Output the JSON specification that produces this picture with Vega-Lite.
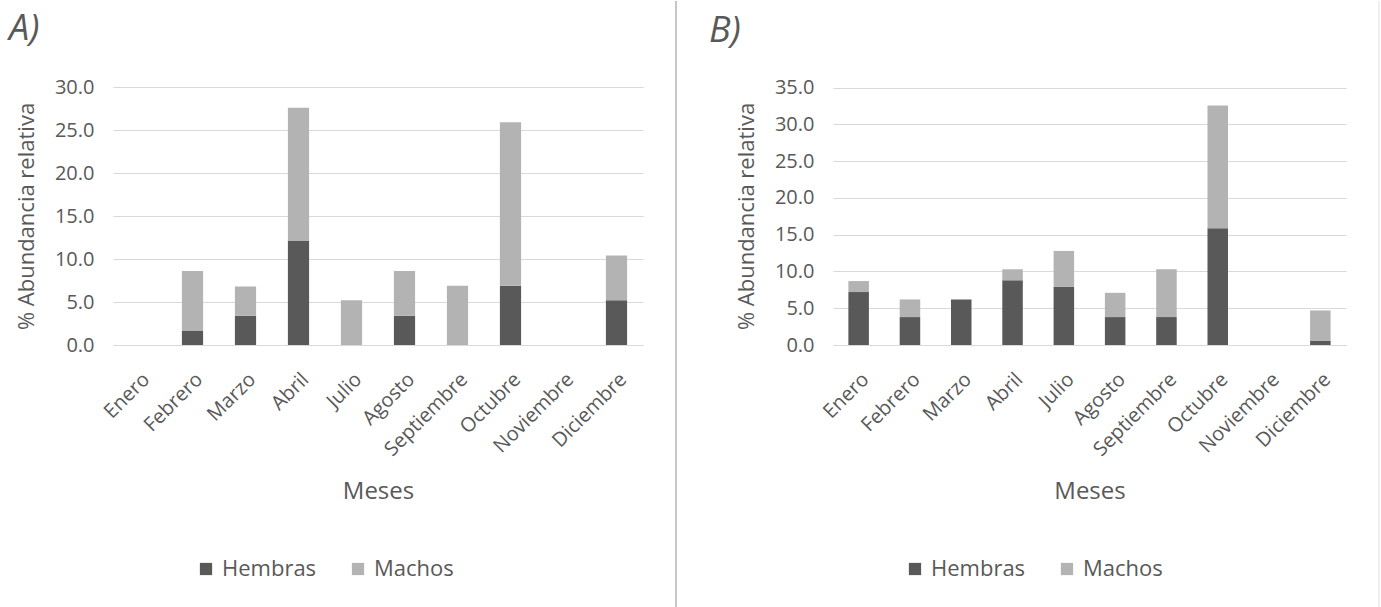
{
  "$schema": "https://vega.github.io/schema/vega-lite/v6.json",
  "padding": {"left": 9, "top": 0, "right": 0, "bottom": 0},
  "spacing": 32,
  "background": "white",
  "datasets": {
    "A": [
      {"mes": "Febrero", "sexo": "Hembras", "valor": 1.7},
      {"mes": "Febrero", "sexo": "Machos", "valor": 6.9},
      {"mes": "Marzo", "sexo": "Hembras", "valor": 3.4},
      {"mes": "Marzo", "sexo": "Machos", "valor": 3.4},
      {"mes": "Abril", "sexo": "Hembras", "valor": 12.1},
      {"mes": "Abril", "sexo": "Machos", "valor": 15.5},
      {"mes": "Julio", "sexo": "Machos", "valor": 5.2},
      {"mes": "Agosto", "sexo": "Hembras", "valor": 3.4},
      {"mes": "Agosto", "sexo": "Machos", "valor": 5.2},
      {"mes": "Septiembre", "sexo": "Machos", "valor": 6.9},
      {"mes": "Octubre", "sexo": "Hembras", "valor": 6.9},
      {"mes": "Octubre", "sexo": "Machos", "valor": 19.0},
      {"mes": "Diciembre", "sexo": "Hembras", "valor": 5.2},
      {"mes": "Diciembre", "sexo": "Machos", "valor": 5.2}
    ],
    "B": [
      {"mes": "Enero", "sexo": "Hembras", "valor": 7.2},
      {"mes": "Enero", "sexo": "Machos", "valor": 1.5},
      {"mes": "Febrero", "sexo": "Hembras", "valor": 3.8},
      {"mes": "Febrero", "sexo": "Machos", "valor": 2.4},
      {"mes": "Marzo", "sexo": "Hembras", "valor": 6.2},
      {"mes": "Abril", "sexo": "Hembras", "valor": 8.8},
      {"mes": "Abril", "sexo": "Machos", "valor": 1.5},
      {"mes": "Julio", "sexo": "Hembras", "valor": 7.9},
      {"mes": "Julio", "sexo": "Machos", "valor": 4.9},
      {"mes": "Agosto", "sexo": "Hembras", "valor": 3.8},
      {"mes": "Agosto", "sexo": "Machos", "valor": 3.3},
      {"mes": "Septiembre", "sexo": "Hembras", "valor": 3.8},
      {"mes": "Septiembre", "sexo": "Machos", "valor": 6.5},
      {"mes": "Octubre", "sexo": "Hembras", "valor": 15.9},
      {"mes": "Octubre", "sexo": "Machos", "valor": 16.7},
      {"mes": "Diciembre", "sexo": "Hembras", "valor": 0.6},
      {"mes": "Diciembre", "sexo": "Machos", "valor": 4.1}
    ],
    "sep": [{"s": 0}]
  },
  "config": {
    "view": {"stroke": null},
    "font": "Open Sans",
    "axis": {
      "labelColor": "#595959",
      "titleColor": "#595959",
      "labelFont": "Open Sans",
      "titleFont": "Open Sans",
      "titleFontWeight": "normal"
    },
    "legend": {
      "labelColor": "#595959",
      "labelFont": "Open Sans",
      "labelFontSize": 22,
      "symbolType": "square",
      "symbolSize": 150,
      "symbolStrokeWidth": 0,
      "columnPadding": 30,
      "labelOffset": 5,
      "padding": 0
    },
    "title": {
      "font": "Open Sans",
      "fontSize": 36,
      "fontStyle": "italic",
      "fontWeight": "normal",
      "color": "#595959",
      "anchor": "start",
      "frame": "group"
    }
  },
  "resolve": {"scale": {"color": "independent"}, "legend": {"color": "independent"}},
  "hconcat": [
    {
      "width": 530,
      "height": 344,
      "data": {"name": "A"},
      "title": {"text": "A)", "dx": -104, "offset": -47},
      "mark": {"type": "bar"},
      "encoding": {
        "x": {
          "field": "mes", "type": "nominal", "sort": null,
          "scale": {"domain": ["Enero", "Febrero", "Marzo", "Abril", "Julio", "Agosto", "Septiembre", "Octubre", "Noviembre", "Diciembre"], "paddingInner": 0.6, "paddingOuter": 0.3},
          "axis": {"title": "Meses", "labelAngle": -45, "labelFontSize": 20, "labelPadding": 24, "titleFontSize": 24, "titlePadding": 20, "domainColor": "#d9d9d9", "ticks": false, "grid": false}
        },
        "y": {
          "field": "valor", "type": "quantitative", "stack": "zero",
          "scale": {"domain": [0, 40], "nice": false},
          "axis": {"title": "% Abundancia relativa", "titleY": 215, "values": [0, 5, 10, 15, 20, 25, 30], "format": ".1f", "domain": false, "ticks": false, "labelPadding": 19, "labelFontSize": 20, "gridColor": "#d9d9d9", "titleFontSize": 22, "titlePadding": 16}
        },
        "color": {
          "field": "sexo", "type": "nominal",
          "scale": {"domain": ["Hembras", "Machos"], "range": ["#595959", "#b3b3b3"]},
          "legend": {"title": null, "orient": "none", "legendX": 82, "legendY": 557, "direction": "horizontal"}
        },
        "order": {"field": "sexo", "sort": "ascending"}
      }
    },
    {
      "width": 1,
      "height": 607,
      "data": {"name": "sep"},
      "mark": {"type": "rule", "color": "#8c8c8c", "strokeWidth": 1},
      "encoding": {"x": {"field": "s", "type": "quantitative", "axis": null, "scale": {"domain": [0, 1]}}}
    },
    {
      "width": 513,
      "height": 344,
      "data": {"name": "B"},
      "title": {"text": "B)", "dx": -124, "offset": -49},
      "mark": {"type": "bar"},
      "encoding": {
        "x": {
          "field": "mes", "type": "nominal", "sort": null,
          "scale": {"domain": ["Enero", "Febrero", "Marzo", "Abril", "Julio", "Agosto", "Septiembre", "Octubre", "Noviembre", "Diciembre"], "paddingInner": 0.6, "paddingOuter": 0.3},
          "axis": {"title": "Meses", "labelAngle": -45, "labelFontSize": 20, "labelPadding": 24, "titleFontSize": 24, "titlePadding": 20, "domainColor": "#d9d9d9", "ticks": false, "grid": false}
        },
        "y": {
          "field": "valor", "type": "quantitative", "stack": "zero",
          "scale": {"domain": [0, 46.8], "nice": false},
          "axis": {"title": "% Abundancia relativa", "titleY": 215, "values": [0, 5, 10, 15, 20, 25, 30, 35], "format": ".1f", "domain": false, "ticks": false, "labelPadding": 19, "labelFontSize": 20, "gridColor": "#d9d9d9", "titleFontSize": 22, "titlePadding": 16}
        },
        "color": {
          "field": "sexo", "type": "nominal",
          "scale": {"domain": ["Hembras", "Machos"], "range": ["#595959", "#b3b3b3"]},
          "legend": {"title": null, "orient": "none", "legendX": 71, "legendY": 557, "direction": "horizontal"}
        },
        "order": {"field": "sexo", "sort": "ascending"}
      }
    },
    {
      "width": 1,
      "height": 607,
      "data": {"name": "sep"},
      "mark": {"type": "rule", "color": "#e0e0e0", "strokeWidth": 1},
      "encoding": {"x": {"field": "s", "type": "quantitative", "axis": null, "scale": {"domain": [0, 1]}}}
    }
  ]
}
